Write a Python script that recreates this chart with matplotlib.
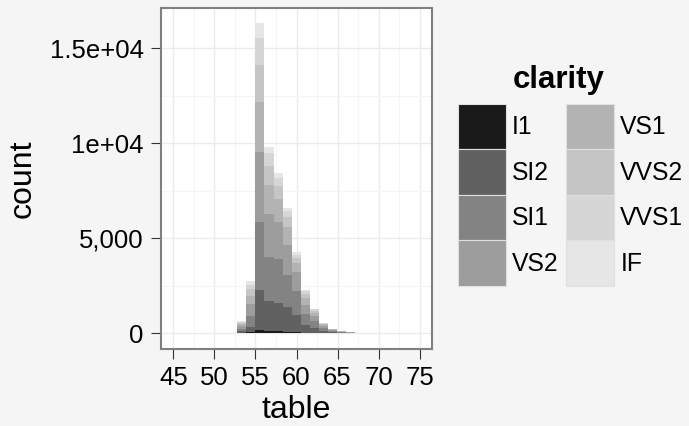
import matplotlib
matplotlib.use('Agg')
import matplotlib.pyplot as plt
from matplotlib.patches import Patch
import numpy as np

# histogram of diamond table width, stacked by clarity
bin_left = [51.7, 52.8, 53.9, 55.0, 56.1, 57.2, 58.3, 59.4, 60.5, 61.6, 62.7, 63.8, 64.9, 66.0]
binwidth = 1.1

clarity = ['I1', 'SI2', 'SI1', 'VS2', 'VS1', 'VVS2', 'VVS1', 'IF']
counts_I1   = [3, 20, 87, 175, 122, 122, 87, 70, 47, 30, 15, 10, 5, 5]
counts_SI2  = [10, 97, 245, 2133, 1573, 1486, 1311, 926, 420, 266, 124, 55, 30, 17]
counts_SI1  = [10, 130, 577, 3566, 2325, 2307, 1661, 1224, 560, 340, 150, 60, 32, 18]
counts_VS2  = [5, 140, 647, 3688, 2272, 1940, 1608, 996, 490, 280, 120, 50, 25, 15]
counts_VS1  = [3, 100, 402, 2605, 1521, 1224, 926, 489, 350, 175, 70, 35, 15, 8]
counts_VVS2 = [2, 70, 367, 1940, 996, 647, 524, 262, 210, 105, 40, 20, 8, 4]
counts_VVS1 = [1, 50, 227, 1433, 699, 437, 297, 175, 140, 70, 25, 10, 5, 2]
counts_IF   = [1, 40, 227, 752, 315, 262, 192, 140, 90, 45, 15, 5, 2, 1]

x_ticks = [45, 50, 55, 60, 65, 70, 75]
y_ticks = [0, 5000, 10000, 15000]
y_tick_labels = ['0', '5,000', '1e+04', '1.5e+04']

greys = ['#1A1A1A', '#616161', '#838383', '#9D9D9D',
         '#B3B3B3', '#C5C5C5', '#D6D6D6', '#E6E6E6']
bg = '#F5F5F5'

plt.rcParams['font.family'] = ['Liberation Sans', 'DejaVu Sans']

fig = plt.figure(figsize=(6.89, 4.26), dpi=100, facecolor=bg)
ax = fig.add_axes([161/689, 1 - 349/426, (432-161)/689, (349-8)/426])
ax.set_facecolor('white')

series = [counts_I1, counts_SI2, counts_SI1, counts_VS2,
          counts_VS1, counts_VVS2, counts_VVS1, counts_IF]
bottom = np.zeros(len(bin_left))
for name, vals, col in zip(clarity, series, greys):
    ax.bar(bin_left, vals, width=binwidth, bottom=bottom, align='edge',
           color=col, linewidth=0, zorder=2)
    bottom += np.array(vals)

ax.set_xlim(43.5, 76.5)
ax.set_ylim(-815, 17106)

ax.set_xticks(x_ticks)
ax.set_xticks([47.5, 52.5, 57.5, 62.5, 67.5, 72.5], minor=True)
ax.set_yticks(y_ticks)
ax.set_yticklabels(y_tick_labels)
ax.set_yticks([2500, 7500, 12500], minor=True)

ax.grid(True, which='major', color='#EBEBEB', linewidth=1.0, zorder=0)
ax.grid(True, which='minor', color='#F5F5F5', linewidth=0.8, zorder=0)
ax.set_axisbelow(True)

ax.tick_params(which='major', length=7, width=0.8, color='#333333',
               labelsize=18.5, labelcolor='black', pad=5.5)
ax.tick_params(which='minor', length=0)

for s in ax.spines.values():
    s.set_color('#7F7F7F')
    s.set_linewidth(1.5)

ax.set_xlabel('table', fontsize=23, labelpad=3)
ax.set_ylabel('count', fontsize=23, labelpad=9)

# legend: title as its own text so the gap above the keys can be matched
fig.text(559/689, 1 - 80/426, 'clarity', fontsize=22.5, fontweight='bold',
         ha='center', va='center')
handles = [Patch(facecolor=c, edgecolor='#E0E0E0', linewidth=0.8) for c in greys]
leg = fig.legend(handles, clarity, ncol=2, loc='upper left',
                 bbox_to_anchor=(458/689, 1 - 104/426),
                 frameon=False, fontsize=17.8,
                 handlelength=1.94, handleheight=2.45, labelspacing=0.0,
                 handletextpad=0.25, columnspacing=0.3, borderpad=0,
                 borderaxespad=0)

fig.savefig('out.png', dpi=100, facecolor=bg)
